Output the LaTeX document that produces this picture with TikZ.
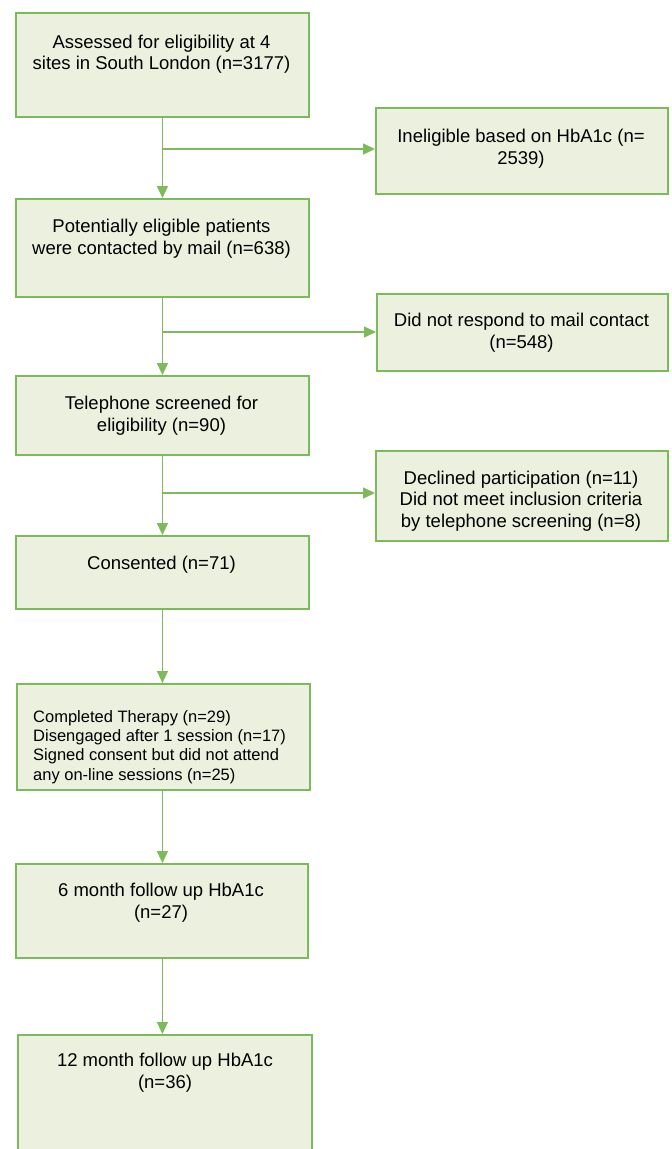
\documentclass[tikz,border=0pt]{standalone}
\usepackage{fontspec}
\setmainfont{Liberation Sans}
\usetikzlibrary{arrows.meta}
\definecolor{boxgreen}{HTML}{7DBA5A}
\definecolor{boxfill}{HTML}{EBF1DE}
\begin{document}
\begin{tikzpicture}[x=1pt,y=-1pt,
  box/.style={draw=boxgreen, fill=boxfill, line width=1.9pt, inner sep=0pt, anchor=north west},
  bigtxt/.style={font=\fontsize{18.5}{21.5}\selectfont, align=center, anchor=base, inner sep=0pt},
  smalltxt/.style={font=\fontsize{16.5}{19.3}\selectfont, inner sep=0pt},
  arr/.style={draw=boxgreen, line width=1.5pt, -{Triangle[length=12pt,width=11pt]}}]
\useasboundingbox (0,0) rectangle (672,1149);
% boxes
\node[box, minimum width=293pt, minimum height=104pt] (b1) at (15,12) {};
\node[box, minimum width=292pt, minimum height=86pt] (s1) at (375,107) {};
\node[box, minimum width=293pt, minimum height=98pt] (b2) at (15,198) {};
\node[box, minimum width=291pt, minimum height=77pt] (s2) at (376,293) {};
\node[box, minimum width=293pt, minimum height=79pt] (b3) at (15,375) {};
\node[box, minimum width=292pt, minimum height=90pt] (s3) at (375,450) {};
\node[box, minimum width=293pt, minimum height=73pt] (b4) at (15,535) {};
\node[box, minimum width=293pt, minimum height=106pt] (b5) at (16,683) {};
\node[box, minimum width=292pt, minimum height=94pt] (b6) at (15,863) {};
\node[box, minimum width=294pt, minimum height=120pt] (b7) at (17,1034) {};
% texts (anchor base = baseline of last line)
\node[bigtxt] (t1) at (161.5,69.5) {Assessed for eligibility at 4\\sites in South London (n=3177)};
\node[bigtxt] (t2) at (521,164) {Ineligible based on HbA1c (n=\\2539)};
\node[bigtxt] (t3) at (161.5,254) {Potentially eligible patients\\were contacted by mail (n=638)};
\node[bigtxt] (t4) at (521.5,348) {Did not respond to mail contact\\(n=548)};
\node[bigtxt] (t5) at (161.5,431) {Telephone screened for\\eligibility (n=90)};
\node[bigtxt] (t6) at (521,527) {Declined participation (n=11)\\Did not meet inclusion criteria\\by telephone screening (n=8)};
\node[bigtxt] (t7) at (161.5,569) {Consented (n=71)};
\node[smalltxt, align=left, anchor=base west] (t8) at (33,780) {Completed Therapy (n=29)\\Disengaged after 1 session (n=17)\\Signed consent but did not attend\\any on-line sessions (n=25)};
\node[bigtxt] (t9) at (161,918) {6 month follow up HbA1c\\(n=27)};
\node[bigtxt] (t10) at (165,1088) {12 month follow up HbA1c\\(n=36)};
% connectors
\coordinate (j1) at (161.5,149);
\coordinate (j2) at (161.5,332);
\coordinate (j3) at (161.5,493);
\draw[arr] (b1.south) -- (b2.north);
\draw[arr] (j1) -- (j1 -| s1.west);
\draw[arr] (b2.south) -- (b3.north);
\draw[arr] (j2) -- (j2 -| s2.west);
\draw[arr] (b3.south) -- (b4.north);
\draw[arr] (j3) -- (j3 -| s3.west);
\draw[arr] (b4.south) -- (b4.south |- b5.north);
\draw[arr] (b5.south -| b4.south) -- (b4.south |- b6.north);
\draw[arr] (b6.south -| b4.south) -- (b4.south |- b7.north);
\end{tikzpicture}
\end{document}
